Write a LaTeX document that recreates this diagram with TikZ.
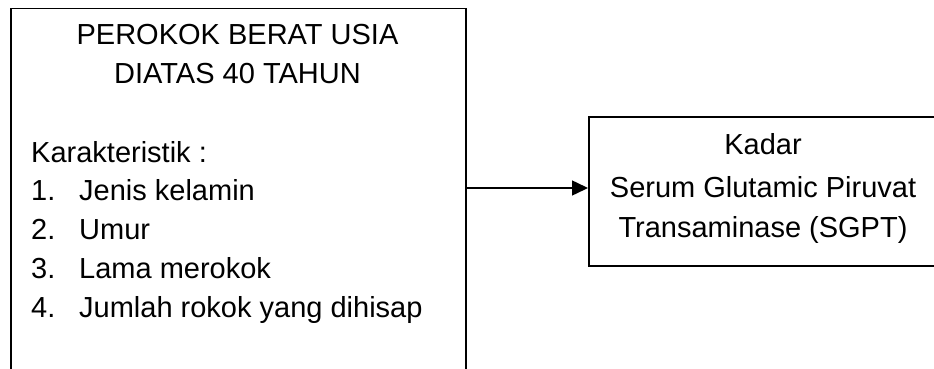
\documentclass[tikz,border=0pt]{standalone}
\usepackage{fontspec}
\setmainfont{Liberation Sans}
\usetikzlibrary{arrows.meta}
\begin{document}
\begin{tikzpicture}[x=1pt,y=-1pt,
  box/.style={draw, line width=1.5pt, inner sep=0pt},
  txt/.style={font=\fontsize{29}{38}\selectfont, inner sep=0pt, anchor=base west},
  ctxt/.style={font=\fontsize{29}{38}\selectfont, inner sep=0pt, anchor=base},
  conn/.style={line width=1.5pt, -{Triangle[length=16pt,width=15pt]}}]
\useasboundingbox (0,0) rectangle (934,369);
\clip (0,0) rectangle (934,369);
\node[box, anchor=north west, minimum width=455pt, minimum height=420pt] (left) at (10,8) {};
\node[ctxt] (t1) at (237.5,45) {PEROKOK BERAT USIA};
\node[ctxt] (t2) at (237.5,83) {DIATAS 40 TAHUN};
\node[txt] (k) at (31,162) {Karakteristik :};
\node[txt] (n1) at (31,200) {1.};
\node[txt] (i1) at (79,200) {Jenis kelamin};
\node[txt] (n2) at (31,239) {2.};
\node[txt] (i2) at (79,239) {Umur};
\node[txt] (n3) at (31,278) {3.};
\node[txt] (i3) at (79,278) {Lama merokok};
\node[txt] (n4) at (31,317) {4.};
\node[txt] (i4) at (79,317) {Jumlah rokok yang dihisap};
\node[box, anchor=north west, minimum width=350pt, minimum height=149pt] (right) at (588,116) {};
\node[ctxt] (r1) at (763,154) {Kadar};
\node[ctxt] (r2) at (763,197) {Serum Glutamic Piruvat};
\node[ctxt] (r3) at (763,237) {Transaminase (SGPT)};
\coordinate (ay) at (0,188);
\draw[conn] (left.east |- ay) -- (right.west |- ay);
\end{tikzpicture}
\end{document}
